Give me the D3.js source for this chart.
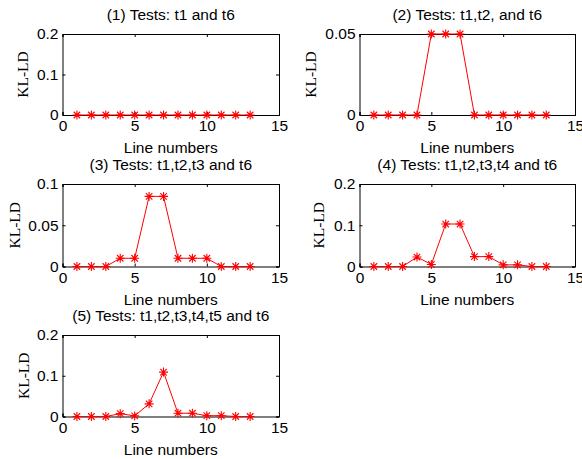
<!DOCTYPE html>
<html><head><meta charset="utf-8">
<script src="https://cdn.jsdelivr.net/npm/d3@7"></script>
<style>body{margin:0;background:#fff}svg{display:block}</style>
</head><body>
<svg id="c" width="582" height="459"></svg>
<script>
const lineNumbers = [1,2,3,4,5,6,7,8,9,10,11,12,13];
const titles = [
  "(1) Tests: t1 and t6",
  "(2) Tests: t1,t2, and t6",
  "(3) Tests: t1,t2,t3 and t6",
  "(4) Tests: t1,t2,t3,t4 and t6",
  "(5) Tests: t1,t2,t3,t4,t5 and t6"
];
const series1 = [0,0,0,0,0,0,0,0,0,0,0,0,0];
const series2 = [0,0,0,0,0.05,0.05,0.05,0,0,0,0,0,0];
const series3 = [0,0,0,0.01,0.01,0.085,0.085,0.01,0.01,0.01,0,0,0];
const series4 = [0,0,0,0.023,0.005,0.103,0.103,0.024,0.024,0.004,0.004,0,0];
const series5 = [0,0,0,0.007,0.0015,0.031,0.109,0.008,0.008,0.002,0.002,0,0];
const yMaxes = [0.2, 0.05, 0.1, 0.2, 0.2];
const yTicks = [[0,0.1,0.2],[0,0.05],[0,0.05,0.1],[0,0.1,0.2],[0,0.1,0.2]];
const xTicks = [0,5,10,15];
const xLabel = "Line numbers";
const yLabel = "KL-LD";

const allSeries = [series1, series2, series3, series4, series5];
const boxes = [
  {x:62.5, y:34, w:216.5, h:81, yl:-34.5},
  {x:359.5, y:34, w:215.5, h:81, yl:-43.5},
  {x:62.5, y:184, w:216.5, h:82.5, yl:-42.5},
  {x:359.5, y:184, w:215.5, h:82.5, yl:-35.5},
  {x:62.5, y:335, w:216.5, h:81.5, yl:-33.5}
];
const svg = d3.select("#c");
const font = "'Liberation Sans', Arial, Helvetica, sans-serif";
const fs = "15.5px";

function star(g, cx, cy, r) {
  const d = r*0.72;
  const p = `M${cx-r},${cy}L${cx+r},${cy}M${cx},${cy-r}L${cx},${cy+r}M${cx-d},${cy-d}L${cx+d},${cy+d}M${cx-d},${cy+d}L${cx+d},${cy-d}`;
  g.append("path").attr("d", p).attr("stroke","#ff0000").attr("stroke-width",1.1).attr("fill","none");
}

allSeries.forEach((vals, i) => {
  const b = boxes[i];
  const g = svg.append("g").attr("transform", `translate(${b.x},${b.y})`);
  const x = d3.scaleLinear().domain([0,15]).range([0,b.w]);
  const y = d3.scaleLinear().domain([0,yMaxes[i]]).range([b.h,0]);
  const fmt = d => d === 0 ? "0" : String(d);
  const xa = d3.axisBottom(x).tickValues(xTicks).tickSize(-3).tickPadding(5).tickFormat(fmt);
  const xt = d3.axisTop(x).tickValues(xTicks).tickSize(-3).tickFormat("");
  const ya = d3.axisLeft(y).tickValues(yTicks[i]).tickSize(-3).tickPadding(4).tickFormat(fmt);
  const yr = d3.axisRight(y).tickValues(yTicks[i]).tickSize(-3).tickFormat("");
  g.append("g").attr("transform",`translate(0,${b.h})`).call(xa);
  g.append("g").call(xt);
  g.append("g").call(ya);
  g.append("g").attr("transform",`translate(${b.w},0)`).call(yr);
  g.selectAll(".domain").attr("stroke","#000").attr("stroke-width",1);
  g.selectAll(".tick line").attr("stroke","#000");
  g.selectAll(".tick text").attr("font-family",font).attr("font-size",fs).attr("fill","#000");
  const line = d3.line().x((d,j)=>x(lineNumbers[j])).y(d=>y(d));
  g.append("path").datum(vals).attr("d",line).attr("fill","none").attr("stroke","#ff0000").attr("stroke-width",1);
  vals.forEach((v,j)=> star(g, x(lineNumbers[j]), y(v), 4.5));
  g.append("text").attr("x",b.w/2).attr("y",-14).attr("text-anchor","middle")
    .attr("font-family",font).attr("font-size",fs).attr("fill","#000").text(titles[i]);
  g.append("text").attr("x",b.w/2).attr("y",b.h+38).attr("text-anchor","middle")
    .attr("font-family",font).attr("font-size",fs).attr("fill","#000").text(xLabel);
  g.append("text").attr("transform",`translate(${b.yl},${b.h/2}) rotate(-90)`).attr("text-anchor","middle")
    .attr("font-family","'Liberation Serif','Times New Roman',serif").attr("font-size",fs).attr("fill","#000").text(yLabel);
});
</script>
</body></html>
